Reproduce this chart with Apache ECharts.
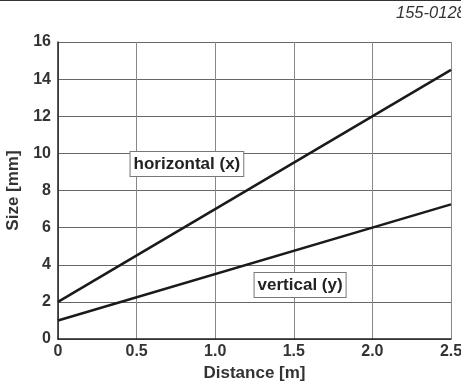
<!DOCTYPE html>
<html>
<head>
<meta charset="utf-8">
<script src="https://cdn.jsdelivr.net/npm/echarts@6/dist/echarts.min.js"></script>
<style>
  html, body { margin: 0; padding: 0; background: #fff; }
  #chart { width: 461px; height: 387px; }
</style>
</head>
<body>
<div id="chart"></div>
<script>
// lines (distance in m, size in mm)
const horizontalX = [[0, 2], [2.5, 14.5]];
const verticalY = [[0, 1], [2.5, 7.25]];
const xTicks = [0, 0.5, 1.0, 1.5, 2.0, 2.5];

const font = "Liberation Sans, Arial, sans-serif";

const boxLabel = {
  show: true,
  color: "#222",
  fontFamily: font,
  fontWeight: "bold",
  fontSize: 17,
  lineHeight: 19,
  backgroundColor: "#fff",
  borderColor: "#777",
  borderWidth: 1,
  padding: [3, 3, 2, 3],
  formatter: "{b}",
};

const chart = echarts.init(document.getElementById("chart"));

chart.setOption({
  animation: false,
  grid: { left: 58, top: 42, width: 393, height: 297, outerBoundsMode: "none", containLabel: false },
  graphic: [
    {
      type: "line",
      shape: { x1: 0, y1: 0.5, x2: 461, y2: 0.5 },
      style: { stroke: "#333", lineWidth: 1 },
    },
    {
      type: "text",
      left: 396,
      top: 5,
      style: {
        text: "155-0128",
        fontFamily: font,
        fontStyle: "italic",
        fontSize: 16.5,
        fill: "#333",
      },
    },
  ],
  xAxis: {
    type: "value",
    min: 0,
    max: 2.5,
    interval: 0.5,
    name: "Distance [m]",
    nameLocation: "middle",
    nameGap: 26,
    nameTextStyle: { fontFamily: font, fontWeight: "bold", fontSize: 17, color: "#333" },
    axisLine: { lineStyle: { color: "#222", width: 1.5 } },
    axisTick: { show: false },
    axisLabel: {
      fontFamily: font,
      fontWeight: "bold",
      fontSize: 16,
      color: "#333",
      margin: 5,
      formatter: (v) => (v === 0 ? "0" : xTicks.find((t) => t === v).toFixed(1)),
    },
    splitLine: { show: true, lineStyle: { color: "#888", width: 1 } },
  },
  yAxis: {
    type: "value",
    min: 0,
    max: 16,
    interval: 2,
    name: "Size [mm]",
    nameLocation: "middle",
    nameGap: 36,
    nameTextStyle: { fontFamily: font, fontWeight: "bold", fontSize: 17, color: "#333" },
    axisLine: { show: true, lineStyle: { color: "#222", width: 1.5 } },
    axisTick: { show: false },
    axisLabel: { fontFamily: font, fontWeight: "bold", fontSize: 16, color: "#333", margin: 7 },
    splitLine: { show: true, lineStyle: { color: "#666", width: 1 } },
  },
  series: [
    {
      name: "horizontal (x)",
      type: "line",
      data: horizontalX,
      symbol: "none",
      lineStyle: { color: "#1a1a1a", width: 2.5 },
      markPoint: {
        symbol: "rect",
        symbolSize: 0,
        label: boxLabel,
        data: [{ name: "horizontal (x)", coord: [0.82, 9.43] }],
      },
    },
    {
      name: "vertical (y)",
      type: "line",
      data: verticalY,
      symbol: "none",
      lineStyle: { color: "#1a1a1a", width: 2.5 },
      markPoint: {
        symbol: "rect",
        symbolSize: 0,
        label: boxLabel,
        data: [{ name: "vertical (y)", coord: [1.54, 2.91] }],
      },
    },
  ],
});
</script>
</body>
</html>
